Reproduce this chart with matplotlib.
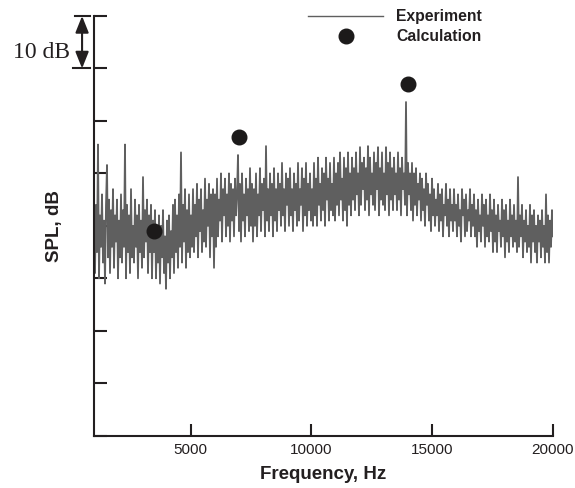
import numpy as np
import matplotlib
matplotlib.use("Agg")
import matplotlib.pyplot as plt
from matplotlib.lines import Line2D
from matplotlib.transforms import blended_transform_factory

plt.rcParams['font.family'] = ['Liberation Sans', 'DejaVu Sans']

# ---- data ----
freq_min, freq_max = 1000, 20000
spl_experiment = [
    40, 31, 44, 35, 55.5, 30, 42, 36, 46, 33, 41, 29, 44, 51.6, 34, 45, 31, 43, 36, 47,
    32, 42, 37, 45, 30, 41, 34, 46, 33, 43, 36, 55.5, 30, 44, 35, 42, 31, 47, 34, 40,
    33, 45, 36, 42, 30, 44, 35, 41, 32, 49.3, 34, 43, 37, 45, 31, 42, 35, 44, 30, 41,
    35, 43, 30, 39, 33, 42, 29, 40, 34, 43, 31, 38, 28, 41, 33, 42, 30, 39, 34, 44,
    31, 45, 35, 42, 32, 46, 36, 54, 33, 44, 37, 47, 32, 43, 35, 46, 34, 42, 36, 47,
    35, 44, 38, 48, 34, 45, 39, 47, 35, 43, 37, 49, 36, 45, 40, 48, 34, 46, 38, 47,
    32, 46, 36, 49, 38, 45, 41, 50, 37, 47, 42, 49, 38, 46, 40, 50, 37, 48, 41, 47,
    38, 49, 42, 46, 53.5, 39, 48, 37, 50, 41, 46, 38, 49, 42, 47, 39, 51, 40, 48, 37,
    47, 40, 50, 38, 46, 42, 51, 39, 48, 43, 49, 38, 55.2, 41, 47, 39, 50, 42, 48, 38,
    51, 41, 47, 39, 50, 43, 48, 40, 52, 42, 47, 39, 50, 44, 49, 40, 51, 42, 47, 39,
    50, 43, 48, 40, 52, 41, 47, 44, 51, 39, 49, 42, 52, 40, 48, 43, 50, 41, 47, 40,
    52, 42, 49, 40, 53, 44, 48, 41, 51, 43, 50, 40, 53, 45, 49, 41, 52, 43, 48, 42,
    53, 41, 50, 44, 52, 42, 54, 45, 49, 41, 53, 43, 51, 40, 54, 44, 50, 42, 53, 45,
    51, 43, 54, 46, 50, 42, 55, 44, 52, 47, 53, 43, 51, 45, 55.2, 42, 53, 46, 50, 44,
    54, 43, 52, 47, 55, 42, 51, 45, 54, 44, 50, 43, 55, 46, 52, 42, 54, 45, 51, 43,
    53, 46, 50, 43, 54, 45, 51, 42, 53, 47, 50, 44, 63.6, 42, 52, 46, 50, 43, 52, 41,
    50, 44, 51, 42, 48, 45, 50, 41, 49, 43, 47, 40, 50, 44, 48, 41, 46, 39, 49, 42,
    47, 40, 45, 42, 48, 39, 46, 41, 47, 38, 44, 42, 48, 40, 45, 38, 47, 41, 44, 39,
    47, 41, 44, 38, 46, 40, 43, 37, 47, 42, 45, 38, 46, 39, 43, 41, 47, 38, 44, 40,
    46, 38, 43, 36, 45, 39, 42, 37, 46, 40, 44, 36, 45, 38, 42, 37, 46, 39, 43, 35,
    45, 37, 42, 35, 44, 39, 41, 36, 45, 38, 43, 34, 44, 37, 41, 35, 45, 38, 42, 36,
    44, 37, 41, 35, 49.3, 36, 42, 38, 44, 34, 41, 37, 43, 35, 40, 36, 44, 33, 42, 37,
    43, 35, 40, 33, 42, 37, 41, 34, 43, 36, 40, 33, 46, 35, 42, 33, 41, 36, 43, 38,
]
freq_experiment = np.linspace(freq_min, freq_max, len(spl_experiment))

freq_calc = [3500, 7000, 14000]
spl_calc = [39.0, 56.9, 67.0]

xtick_values = [5000, 10000, 15000, 20000]
ytick_values = list(range(0, 81, 10))
scale_top, scale_bottom = 80, 70   # the "10 dB" scale bar

# ---- figure ----
fig = plt.figure(figsize=(5.75, 4.88), dpi=100)
ax = fig.add_axes([94/575, 1 - 435.7/488, 459/575, 419.7/488])

ax.plot(freq_experiment, spl_experiment, color='#5f5f5f', lw=1.3, zorder=2)
ax.plot(freq_calc, spl_calc, 'o', color='#1c1a1a', ms=10.5, zorder=3, clip_on=False)

ax.set_xlim(freq_min, freq_max)
ax.set_ylim(0, 80)
ax.set_xticks(xtick_values)
ax.set_xticklabels([str(v) for v in xtick_values])
ax.set_yticks(ytick_values)
ax.set_yticklabels([])

for s in ['top', 'right']:
    ax.spines[s].set_visible(False)
for s in ['left', 'bottom']:
    ax.spines[s].set_linewidth(1.5)
    ax.spines[s].set_color('#231f20')
ax.tick_params(direction='in', length=9, width=1.5, color='#231f20',
               labelsize=11, pad=5, labelcolor='#231f20')

ax.set_xlabel('Frequency, Hz', fontsize=13.5, fontweight='bold', color='#231f20')
ax.xaxis.set_label_coords(0.5, -0.0936)
ax.xaxis.label.set_verticalalignment('center')
ax.set_ylabel('SPL, dB', fontsize=13.5, fontweight='bold', color='#231f20')
ax.yaxis.set_label_coords(-0.086, 0.5)
ax.yaxis.label.set_verticalalignment('center')

# scale bar "10 dB"
trans = blended_transform_factory(ax.transAxes, ax.transData)
ax.annotate('', xy=(-0.026, scale_top), xytext=(-0.026, scale_bottom),
            xycoords=trans, textcoords=trans,
            arrowprops=dict(arrowstyle='<|-|>,head_length=0.5,head_width=0.2',
                            mutation_scale=20, color='#231f20', lw=1.5,
                            shrinkA=0, shrinkB=0), annotation_clip=False)
for yv, x0 in [(scale_top, -0.0414), (scale_bottom, -0.046)]:
    ax.plot([x0, -0.0087], [yv, yv], transform=trans, color='#231f20',
            lw=1.5, clip_on=False)
ax.text(-0.0523, 71.9, '10 dB', transform=trans, ha='right', va='baseline',
        fontsize=17, family=['Liberation Serif', 'DejaVu Serif'], color='#231f20')

# legend
handles = [Line2D([], [], color='#5f5f5f', lw=1.0),
           Line2D([], [], ls='none', marker='o', color='#1c1a1a', ms=10.5)]
leg = fig.legend(handles, ['Experiment', 'Calculation'], loc='upper left',
                 bbox_to_anchor=(308/575, 1 - 9/488), frameon=False,
                 borderpad=0, borderaxespad=0, handlelength=4.8,
                 handletextpad=0.8, labelspacing=0.33,
                 prop=dict(size=11.3, weight='bold'))
for t in leg.get_texts():
    t.set_color('#231f20')

fig.savefig('out.png', dpi=100)
